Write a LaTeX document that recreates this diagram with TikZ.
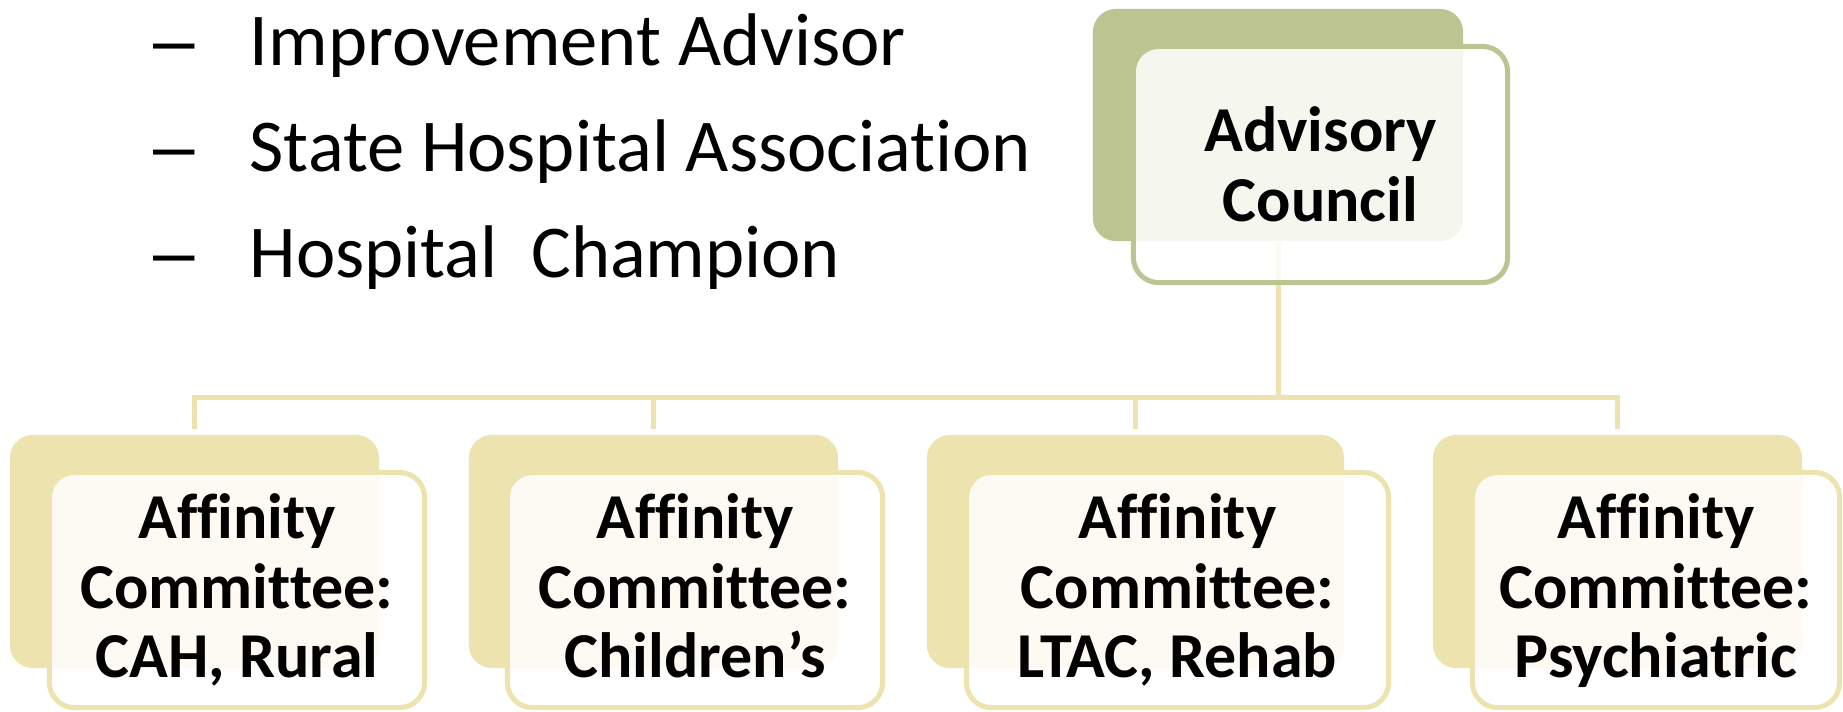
\documentclass[tikz,border=0pt]{standalone}
\usepackage{fontspec}
\setmainfont{Carlito}[Ligatures={NoCommon}]
\newfontfamily\dashfont{Liberation Sans}
\usetikzlibrary{positioning}

\definecolor{olivebox}{HTML}{BCC492}
\definecolor{sandbox}{HTML}{EDE3AE}

\begin{document}
\begin{tikzpicture}[x=0.01cm, y=-0.01cm,
  backbox/.style={rounded corners=0.23cm, inner sep=0pt, minimum width=3.69cm, minimum height=2.33cm},
  frontbox/.style={rounded corners=0.25cm, line width=0.05cm, fill=white, fill opacity=0.85, text opacity=1,
    inner sep=0pt, minimum height=2.35cm, align=center, font=\bfseries\fontsize{18.2pt}{19.9pt}\selectfont},
  link/.style={draw=sandbox, line width=0.05cm},
  listitem/.style={anchor=base west, inner sep=0pt, font=\fontsize{21.2pt}{25pt}\selectfont}]

\useasboundingbox (0,0) rectangle (1843,711);

% List of members
\foreach \i/\y/\txt in {1/65/Improvement Advisor, 2/171/State Hospital Association, 3/277/Hospital\ \ Champion}
{
    \node[listitem] (dash\i) at (153,\y) {\dashfont –};
    \node[listitem] (item\i) at (249,\y) {\txt};
}

% Back boxes
\node[backbox, fill=olivebox, minimum width=3.70cm, minimum height=2.32cm] (councilback) at (1278,125) {};
\foreach \n/\x/\w in {1/194.5/3.69, 2/653.5/3.69, 3/1135.5/4.17, 4/1617.5/3.69}
{
    \node[backbox, fill=sandbox, minimum width=\w cm] (aff\n back) at (\x,551.5) {};
}

% Connectors
\coordinate (busy) at (0,397.5);
\coordinate (bus) at (councilback.south |- busy);
\draw[link] (councilback.south) -- (bus);
\foreach \n in {1,...,4}
{
    \draw[link, shorten >=0.05cm] (bus) -| (aff\n back.north);
}

% Front boxes
\node[frontbox, draw=olivebox, minimum width=3.74cm, minimum height=2.36cm] (council) at (1320.5,164.5) {Advisory\\Council};
\foreach \n/\x/\w/\txt in {1/237/3.75/{CAH, Rural}, 2/695/3.75/{Children’s}, 3/1177.5/4.22/{LTAC, Rehab}, 4/1656/3.67/{Psychiatric}}
{
    \node[frontbox, draw=sandbox, minimum width=\w cm] (aff\n) at (\x,590) {\rule{0pt}{16.2pt}Affinity\\Committee:\\\txt\strut};
}

\end{tikzpicture}
\end{document}
